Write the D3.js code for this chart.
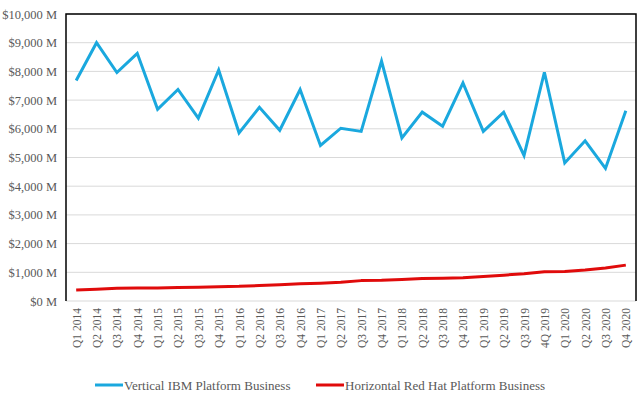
<!DOCTYPE html>
<html>
<head>
<meta charset="utf-8">
<script src="https://cdn.jsdelivr.net/npm/d3@7"></script>
<style>
  body { margin: 0; background: #fff; }
  svg { display: block; }
  svg text { font-family: "Liberation Serif", "DejaVu Serif", "Times New Roman", serif; }
</style>
</head>
<body>
<svg id="chart" width="644" height="399"></svg>
<script>
var quarters = ["Q1 2014","Q2 2014","Q3 2014","Q4 2014","Q1 2015","Q2 2015","Q3 2015","Q4 2015",
  "Q1 2016","Q2 2016","Q3 2016","Q4 2016","Q1 2017","Q2 2017","Q3 2017","Q4 2017",
  "Q1 2018","Q2 2018","Q3 2018","Q4 2018","Q1 2019","Q2 2019","Q3 2019","4Q 2019",
  "Q1 2020","Q2 2020","Q3 2020","Q4 2020"];

// $M per quarter
var ibmVertical = [7680, 9000, 7960, 8630, 6680, 7370, 6370, 8050,
  5860, 6750, 5950, 7370, 5420, 6020, 5910, 8360,
  5680, 6580, 6090, 7600, 5910, 6580, 5070, 7970,
  4810, 5580, 4620, 6630];
var redHat = [380, 410, 440, 450, 450, 470, 480, 500,
  510, 540, 570, 600, 620, 650, 710, 720,
  750, 780, 790, 810, 850, 900, 950, 1020,
  1030, 1080, 1150, 1250];

var yTicks = [0, 1000, 2000, 3000, 4000, 5000, 6000, 7000, 8000, 9000, 10000];
var seriesNames = ["Vertical IBM Platform Business", "Horizontal Red Hat Platform Business"];
var seriesColors = ["#1aa8de", "#e00b0b"];

var margin = {top: 14, right: 8, bottom: 98, left: 66};
var svg = d3.select("#chart");
var W = 644, H = 399;
var w = W - margin.left - margin.right, h = H - margin.top - margin.bottom;

var g = svg.append("g").attr("transform", "translate(" + margin.left + "," + margin.top + ")");

var x = d3.scalePoint().domain(quarters).range([0, w]).padding(0.5);
var y = d3.scaleLinear().domain([0, 10000]).range([h, 0]);

// gridlines
g.selectAll(".grid").data(yTicks).enter().append("line")
  .attr("x1", 0).attr("x2", w)
  .attr("y1", function(d) { return y(d); })
  .attr("y2", function(d) { return y(d); })
  .attr("stroke", "#d9d9d9").attr("stroke-width", 1);

// frame: left, top, right black
g.append("path")
  .attr("d", "M0," + h + "V0H" + w + "V" + h)
  .attr("fill", "none").attr("stroke", "#000").attr("stroke-width", 1.5);

// y axis labels
var yAxis = d3.axisLeft(y).tickValues(yTicks).tickSize(0).tickPadding(9)
  .tickFormat(function(d) { return "$" + d3.format(",")(d) + " M"; });
g.append("g").call(yAxis)
  .attr("font-family", null)
  .call(function(s) { s.select(".domain").remove(); })
  .selectAll("text")
  .attr("font-size", 12.5).attr("fill", "#595959");

// x axis labels, rotated
var xAxis = d3.axisBottom(x).tickSize(0).tickPadding(0);
g.append("g").attr("transform", "translate(0," + h + ")").call(xAxis)
  .attr("font-family", null)
  .call(function(s) { s.select(".domain").remove(); })
  .selectAll("text")
  .attr("font-size", 11.5).attr("fill", "#595959")
  .attr("transform", "rotate(-90)")
  .attr("text-anchor", "end")
  .attr("x", -7).attr("y", 0).attr("dy", "0.35em");

var line = d3.line()
  .x(function(d, i) { return x(quarters[i]); })
  .y(function(d) { return y(d); });

g.append("path").datum(ibmVertical)
  .attr("d", line).attr("fill", "none")
  .attr("stroke", seriesColors[0]).attr("stroke-width", 3).attr("stroke-linejoin", "miter");

g.append("path").datum(redHat)
  .attr("d", line).attr("fill", "none")
  .attr("stroke", seriesColors[1]).attr("stroke-width", 3).attr("stroke-linejoin", "round");

// legend
var legendX = [95, 316];
var leg = svg.selectAll(".legend").data(seriesNames).enter().append("g")
  .attr("transform", function(d, i) { return "translate(" + legendX[i] + ",385)"; });
leg.append("line").attr("x1", 0).attr("x2", 28).attr("y1", 0).attr("y2", 0)
  .attr("stroke", function(d, i) { return seriesColors[i]; }).attr("stroke-width", 3);
leg.append("text").attr("x", 29).attr("dy", "0.35em")
  .attr("font-size", 13).attr("fill", "#595959")
  .text(function(d) { return d; });
</script>
</body>
</html>
